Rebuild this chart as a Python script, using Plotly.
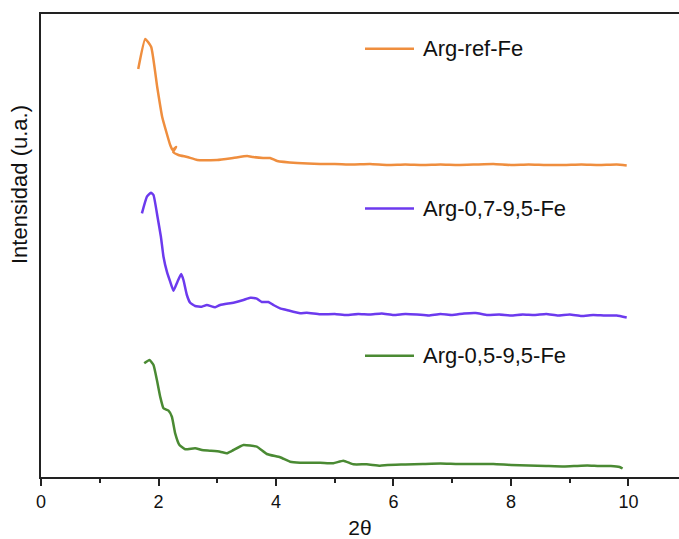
import plotly.graph_objects as go

# ---- data (2theta, intensity in arbitrary units) ----
ref_x = [1.655, 1.774, 1.876, 1.978, 2.063, 2.148, 2.199, 2.24, 2.30, 2.25, 2.34, 2.49, 2.66, 3.0,
         3.27, 3.51, 3.61, 3.78, 3.90, 4.02, 4.36, 4.75, 5.0, 5.3, 5.6, 5.9, 6.2, 6.5, 6.8, 7.1,
         7.4, 7.7, 8.0, 8.3, 8.6, 8.9, 9.2, 9.5, 9.8, 9.97]
ref_y = [408, 438, 430, 390, 360, 342, 332, 327, 330, 325, 322, 320, 317, 317,
         319, 321, 320, 319, 319, 316, 314, 313, 313, 312.5, 313, 312, 312.5, 312, 312.5, 312,
         312.5, 313, 312, 312.5, 312, 312, 312.5, 312, 312.5, 311.5]

a07_x = [1.718, 1.803, 1.871, 1.915, 1.983, 2.041, 2.085, 2.143, 2.199, 2.255, 2.323, 2.386, 2.425,
         2.483, 2.539, 2.624, 2.738, 2.823, 2.964, 3.049, 3.276, 3.446, 3.560, 3.673, 3.759, 3.871,
         3.956, 4.070, 4.184, 4.410, 4.524, 4.750, 5.0, 5.2, 5.4, 5.6, 5.8, 6.0, 6.2, 6.4, 6.6, 6.8,
         7.0, 7.2, 7.4, 7.6, 7.8, 8.0, 8.2, 8.4, 8.6, 8.8, 9.0, 9.2, 9.4, 9.6, 9.8, 9.97]
a07_y = [263.7, 280.3, 284.3, 282, 260.3, 240.3, 220.3, 205.3, 195.3, 186.3, 195.3, 203, 197,
         182, 174.3, 171, 170.3, 172, 169.7, 172, 174.3, 177, 179.3, 178.3, 175, 175,
         172, 168.7, 167, 163.7, 164.3, 162.7, 163, 162, 163, 162.5, 163.5, 162, 163, 162.5, 161.5, 163,
         162, 163.5, 164, 162, 162.5, 161.5, 162.5, 162, 163, 161.5, 162.5, 161, 162, 161.5, 161.5, 159.5]

a05_x = [1.757, 1.847, 1.915, 1.973, 2.029, 2.085, 2.170, 2.228, 2.284, 2.357, 2.454, 2.624, 2.738,
         2.879, 3.049, 3.163, 3.248, 3.446, 3.673, 3.844, 4.070, 4.240, 4.410, 4.750, 4.976, 5.146,
         5.316, 5.544, 5.770, 5.9, 6.2, 6.5, 6.8, 7.1, 7.4, 7.7, 8.0, 8.3, 8.6, 8.9, 9.1, 9.3, 9.5,
         9.7, 9.85, 9.9]
a05_y = [113.7, 117, 112, 97, 80.3, 68.7, 66.3, 60.3, 43.7, 32, 27.7, 28.7, 27,
         26.3, 25.3, 23.7, 26, 32, 30.3, 23, 19.7, 15.3, 14.3, 14.3, 13.7, 16.3,
         12.7, 12.7, 11.3, 12, 12.5, 13, 13.5, 13, 13, 13, 12, 11.5, 11, 10.5, 11, 11.5, 11,
         11, 10, 8.5]

names = ["Arg-ref-Fe", "Arg-0,7-9,5-Fe", "Arg-0,5-9,5-Fe"]
colors = ["#EF8E3E", "#6C3AEE", "#4A8A33"]
xs = [ref_x, a07_x, a05_x]
ys = [ref_y, a07_y, a05_y]

# legend sample placement (paper coords)
leg_y = [0.925, 0.58, 0.262]

fig = go.Figure()
for x, y, n, c in zip(xs, ys, names, colors):
    fig.add_trace(go.Scatter(x=x, y=y, mode="lines", name=n,
                             line=dict(color=c, width=2.5, shape="spline", smoothing=0.4),
                             showlegend=False))

W, H = 679, 539
ml, mr, mt, mb = 41, 0, 14, 62
pw = W - ml - mr

def px2paper(px):
    return (px - ml) / pw

for n, c, ly in zip(names, colors, leg_y):
    fig.add_shape(type="line", xref="paper", yref="paper",
                  x0=px2paper(365), x1=px2paper(414), y0=ly, y1=ly,
                  line=dict(color=c, width=2.5))
    fig.add_annotation(text=n, xref="paper", yref="paper", x=px2paper(421), y=ly,
                       xanchor="left", yanchor="middle", showarrow=False,
                       font=dict(family="Liberation Sans, Arial", size=22, color="#111"))

fig.add_annotation(text="Intensidad (u.a.)", xref="paper", yref="paper",
                   x=px2paper(20), y=(477 - 185) / 463, textangle=-90,
                   xanchor="center", yanchor="middle", showarrow=False,
                   font=dict(family="Liberation Sans, Arial", size=22, color="#111"))

fig.update_layout(
    width=W, height=H,
    margin=dict(l=ml, r=mr, t=mt, b=mb),
    paper_bgcolor="white", plot_bgcolor="white",
    showlegend=False,
    xaxis=dict(range=[0, 10.86], dtick=2, tick0=0, showgrid=False, zeroline=False,
               showline=True, linecolor="#222", linewidth=2, mirror=True,
               ticks="outside", ticklen=7, tickwidth=2, tickcolor="#222",
               minor=dict(dtick=1, ticks="outside", ticklen=4, tickwidth=2, tickcolor="#222"),
               tickfont=dict(family="Liberation Sans, Arial", size=18, color="#111"),
               title=dict(text="2θ", font=dict(family="Liberation Sans, Arial", size=21, color="#111"),
                          standoff=12)),
    yaxis=dict(range=[0, 463], showgrid=False, zeroline=False, showticklabels=False,
               showline=True, linecolor="#222", linewidth=2, ticks=""),
)

fig.write_html("out.html")
